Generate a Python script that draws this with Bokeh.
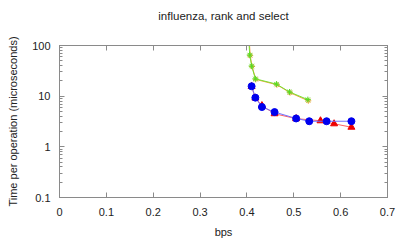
from bokeh.plotting import figure
from bokeh.models import LogAxis, LinearAxis, FixedTicker, CustomJSTickFormatter
from bokeh.embed import file_html
from bokeh.resources import INLINE

# data
title_text = "influenza, rank and select"
green_x = [0.404, 0.406, 0.410, 0.418, 0.463, 0.491, 0.530]
green_y = [130, 65, 39.4, 22.0, 17.3, 12.1, 8.55]
orange_x = [0.405, 0.407, 0.411, 0.419, 0.464, 0.492, 0.531]
orange_y = [126, 63, 38.5, 21.4, 16.8, 11.7, 8.1]
blue_x = [0.410, 0.418, 0.432, 0.459, 0.505, 0.533, 0.570, 0.623]
blue_y = [15.7, 9.35, 6.1, 4.85, 3.63, 3.2, 3.2, 3.2]
red_x = [0.410, 0.418, 0.432, 0.459, 0.505, 0.557, 0.586, 0.623]
red_y = [15.5, 9.2, 6.5, 4.5, 3.6, 3.27, 2.85, 2.44]

x_ticks = [0, 0.1, 0.2, 0.3, 0.4, 0.5, 0.6, 0.7]
y_ticks = [0.1, 1, 10, 100]
y_minor = [m * d for d in (0.1, 1, 10) for m in range(1, 10)] + [100]

FONT = "Liberation Sans"
GRAY = "#8a8a8a"
TXT = "#222222"

p = figure(width=400, height=240, x_range=(0, 0.7), y_range=(0.1, 100),
           y_axis_type="log", output_backend="svg", toolbar_location=None,
           min_border_left=59, min_border_right=13, min_border_top=45,
           min_border_bottom=43)
p.grid.visible = False
p.outline_line_color = GRAY
p.background_fill_color = "white"
p.border_fill_color = "white"

xt = FixedTicker(ticks=x_ticks, minor_ticks=[])
yt = FixedTicker(ticks=y_ticks, minor_ticks=y_minor)
xfmt = CustomJSTickFormatter(code="return tick == 0 ? '0' : tick.toFixed(1);")
yfmt = CustomJSTickFormatter(code="return tick >= 1 ? tick.toFixed(0) : tick.toFixed(1);")
blank = CustomJSTickFormatter(code="return '';")

def style(ax):
    ax.axis_line_color = GRAY
    ax.major_tick_line_color = GRAY
    ax.minor_tick_line_color = GRAY
    ax.major_tick_in = 5
    ax.major_tick_out = 0
    ax.minor_tick_in = 3
    ax.minor_tick_out = 0
    ax.major_label_text_font = FONT
    ax.major_label_text_font_size = "11px"
    ax.major_label_text_color = TXT
    ax.axis_label_text_font = FONT
    ax.axis_label_text_font_size = "11px"
    ax.axis_label_text_font_style = "normal"
    ax.axis_label_text_color = TXT

p.xaxis.ticker = xt
p.xaxis.formatter = xfmt
p.yaxis.ticker = yt
p.yaxis.formatter = yfmt
p.xaxis.axis_label = "bps"
p.yaxis.axis_label = "Time per operation (microseconds)"
for ax in p.xaxis + p.yaxis:
    style(ax)
p.xaxis.major_label_standoff = 10
p.xaxis.axis_label_standoff = 7
p.yaxis.major_label_standoff = 9
p.yaxis.axis_label_standoff = 10

# top mirror axis carries the chart title
top = LinearAxis(ticker=xt, formatter=blank, axis_label=title_text)
style(top)
top.major_label_standoff = 0
top.axis_label_standoff = 24
top.axis_label_text_font_size = "11.5px"
p.add_layout(top, "above")
right = LogAxis(ticker=yt, formatter=blank)
style(right)
right.major_label_standoff = 0
p.add_layout(right, "right")

p.line(orange_x, orange_y, line_color="#f5a040", line_width=1)
p.scatter(orange_x, orange_y, marker="asterisk", size=6,
          line_color="#f5a040", line_width=1)
p.line(green_x, green_y, line_color="#77e033", line_width=1)
p.scatter(green_x, green_y, marker="asterisk", size=6,
          line_color="#55dd22", line_width=1)
p.line(red_x, red_y, line_color="#ff6060", line_width=1)
p.scatter(red_x, red_y, marker="triangle", size=7, color="#ee0000")
p.line(blue_x, blue_y, line_color="#7070ff", line_width=1)
p.scatter(blue_x, blue_y, marker="circle", size=7, color="#0000ee")

open("out.html", "w").write(file_html(p, INLINE))
